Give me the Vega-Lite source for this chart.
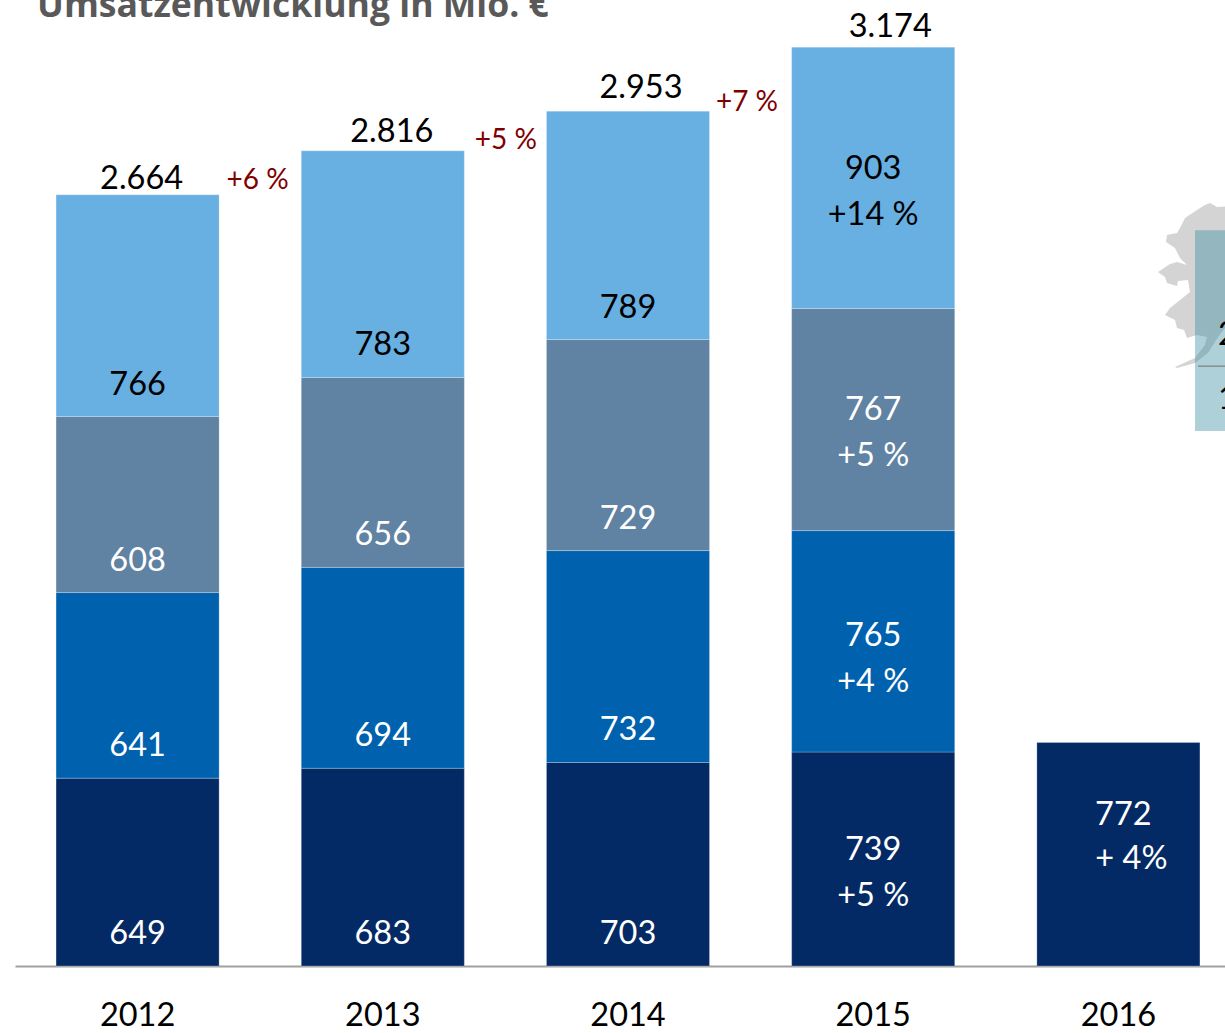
{"$schema":"https://vega.github.io/schema/vega-lite/v6.json","width":1225,"height":966,"padding":{"left":0,"right":0,"top":0,"bottom":67},"autosize":{"type":"none"},"background":"white","title":{"text":"Umsatzentwicklung in Mio. €","anchor":"start","frame":"group","font":"Open Sans","fontWeight":"bold","fontSize":35.6,"color":"#595959","dx":37,"dy":25,"offset":0},"config":{"view":{"stroke":null},"text":{"font":"Lato","fontSize":32.5,"baseline":"middle","align":"center"}},"datasets":{"segments":[{"year":"2012","segment":"Segment 1","order":1,"value":649},{"year":"2012","segment":"Segment 2","order":2,"value":641},{"year":"2012","segment":"Segment 3","order":3,"value":608},{"year":"2012","segment":"Segment 4","order":4,"value":766},{"year":"2013","segment":"Segment 1","order":1,"value":683},{"year":"2013","segment":"Segment 2","order":2,"value":694},{"year":"2013","segment":"Segment 3","order":3,"value":656},{"year":"2013","segment":"Segment 4","order":4,"value":783},{"year":"2014","segment":"Segment 1","order":1,"value":703},{"year":"2014","segment":"Segment 2","order":2,"value":732},{"year":"2014","segment":"Segment 3","order":3,"value":729},{"year":"2014","segment":"Segment 4","order":4,"value":789},{"year":"2015","segment":"Segment 1","order":1,"value":739,"change":"+5 %"},{"year":"2015","segment":"Segment 2","order":2,"value":765,"change":"+4 %"},{"year":"2015","segment":"Segment 3","order":3,"value":767,"change":"+5 %"},{"year":"2015","segment":"Segment 4","order":4,"value":903,"change":"+14 %"},{"year":"2016","segment":"Segment 1","order":1,"value":772,"change":"+ 4%"}],"totals":[{"year":"2012","total":2664,"label":"2.664","growth":"+6 %"},{"year":"2013","total":2816,"label":"2.816","growth":"+5 %"},{"year":"2014","total":2953,"label":"2.953","growth":"+7 %"},{"year":"2015","total":3174,"label":"3.174"}],"inset":[{"from":1195,"to":1230,"top":2542,"bottom":1848}],"insetLine":[{"from":1198,"to":1230,"at":2072}],"insetText":[{"at":1218,"level":2180,"text":"2"},{"at":1218,"level":1959,"text":"1"}]},"resolve":{"scale":{"x":"independent"},"axis":{"x":"independent"}},"layer":[{"data":{"values":[{"type":"Feature","properties":{"name":"Karte"},"geometry":{"type":"Polygon","coordinates":[[[1210,203],[1217,207],[1230,206],[1230,328],[1225,328],[1218,337],[1208,353],[1195,363],[1177,368],[1175,367],[1195,358],[1205,345],[1207,337],[1197,335],[1187,338],[1184,330],[1177,328],[1175,320],[1165,315],[1170,308],[1180,300],[1190,292],[1188,280],[1178,281],[1177,286],[1167,283],[1165,277],[1158,272],[1170,264],[1177,262],[1187,265],[1180,258],[1175,248],[1166,242],[1167,235],[1177,233],[1180,228],[1185,218],[1197,210],[1205,205],[1210,203]]]}}]},"projection":{"type":"identity","scale":1,"translate":[0,0]},"mark":{"type":"geoshape","fill":"#d4d4d4","stroke":null},"encoding":{}},{"layer":[{"data":{"name":"inset"},"mark":{"type":"rect","color":"#32899f","opacity":0.4},"encoding":{"x":{"field":"from","type":"quantitative","scale":{"domain":[0,1225],"range":[0,1225],"nice":false,"zero":false},"axis":null},"x2":{"field":"to"},"y":{"field":"top","type":"quantitative","scale":{"domain":[0,3337],"nice":false},"axis":null},"y2":{"field":"bottom"}}},{"data":{"name":"insetLine"},"mark":{"type":"rule","color":"#8c8c8c","strokeWidth":1.5},"encoding":{"x":{"field":"from","type":"quantitative","scale":{"domain":[0,1225],"range":[0,1225],"nice":false,"zero":false},"axis":null},"x2":{"field":"to"},"y":{"field":"at","type":"quantitative"}}},{"data":{"name":"insetText"},"mark":{"type":"text","align":"left","color":"#000000"},"encoding":{"x":{"field":"at","type":"quantitative","scale":{"domain":[0,1225],"range":[0,1225],"nice":false,"zero":false},"axis":null},"y":{"field":"level","type":"quantitative"},"text":{"field":"text"}}}]},{"data":{"name":"segments"},"transform":[{"stack":"value","groupby":["year"],"sort":[{"field":"order","order":"ascending"}],"as":["y0","y1"]}],"encoding":{"x":{"field":"year","type":"ordinal","scale":{"domain":["2012","2013","2014","2015","2016"],"range":[15,1241],"paddingInner":0.335,"paddingOuter":0.1675},"axis":{"orient":"bottom","title":null,"labelAngle":0,"ticks":false,"domainColor":"#9f9f9f","domainWidth":2,"labelFont":"Lato","labelFontSize":32.5,"labelColor":"#000000","labelBaseline":"middle","labelPadding":49,"labelOverlap":false,"labelBound":false,"labelFlush":false,"grid":false}}},"layer":[{"mark":{"type":"bar","stroke":"#ffffff","strokeWidth":0.4,"strokeOpacity":0.6},"encoding":{"y":{"field":"y1","type":"quantitative","axis":null},"y2":{"field":"y0"},"color":{"field":"segment","type":"nominal","scale":{"domain":["Segment 1","Segment 2","Segment 3","Segment 4"],"range":["#042a66","#0061ae","#6082a3","#68afe2"]},"legend":null}}},{"transform":[{"filter":"datum.year<'2015'"}],"mark":{"type":"text","dy":-32},"encoding":{"y":{"field":"y0","type":"quantitative"},"text":{"field":"value"},"color":{"condition":{"test":"datum.order==4","value":"#000000"},"value":"#ffffff"}}},{"transform":[{"filter":"datum.year=='2015' && datum.order<3"}],"mark":{"type":"text","dy":-116,"color":"#ffffff"},"encoding":{"y":{"field":"y0","type":"quantitative"},"text":{"field":"value"}}},{"transform":[{"filter":"datum.year=='2015' && datum.order<3"}],"mark":{"type":"text","dy":-70,"color":"#ffffff"},"encoding":{"y":{"field":"y0","type":"quantitative"},"text":{"field":"change"}}},{"transform":[{"filter":"datum.year=='2015' && datum.order==3"}],"mark":{"type":"text","dy":-121,"color":"#ffffff"},"encoding":{"y":{"field":"y0","type":"quantitative"},"text":{"field":"value"}}},{"transform":[{"filter":"datum.year=='2015' && datum.order==3"}],"mark":{"type":"text","dy":-75,"color":"#ffffff"},"encoding":{"y":{"field":"y0","type":"quantitative"},"text":{"field":"change"}}},{"transform":[{"filter":"datum.year=='2015' && datum.order==4"}],"mark":{"type":"text","dy":-140,"color":"#000000"},"encoding":{"y":{"field":"y0","type":"quantitative"},"text":{"field":"value"}}},{"transform":[{"filter":"datum.year=='2015' && datum.order==4"}],"mark":{"type":"text","dy":-94,"color":"#000000"},"encoding":{"y":{"field":"y0","type":"quantitative"},"text":{"field":"change"}}},{"transform":[{"filter":"datum.year=='2016'"}],"mark":{"type":"text","dy":-151,"dx":5,"color":"#ffffff"},"encoding":{"y":{"field":"y0","type":"quantitative"},"text":{"field":"value"}}},{"transform":[{"filter":"datum.year=='2016'"}],"mark":{"type":"text","dy":-107,"dx":13,"color":"#ffffff"},"encoding":{"y":{"field":"y0","type":"quantitative"},"text":{"field":"change"}}},{"data":{"name":"totals"},"transform":[{"filter":"datum.year=='2012'"}],"mark":{"type":"text","dx":4,"dy":-16,"color":"#000000"},"encoding":{"y":{"field":"total","type":"quantitative"},"text":{"field":"label"}}},{"data":{"name":"totals"},"transform":[{"filter":"datum.year=='2013'"}],"mark":{"type":"text","dx":9,"dy":-19,"color":"#000000"},"encoding":{"y":{"field":"total","type":"quantitative"},"text":{"field":"label"}}},{"data":{"name":"totals"},"transform":[{"filter":"datum.year=='2014'"}],"mark":{"type":"text","dx":13,"dy":-23,"color":"#000000"},"encoding":{"y":{"field":"total","type":"quantitative"},"text":{"field":"label"}}},{"data":{"name":"totals"},"transform":[{"filter":"datum.year=='2015'"}],"mark":{"type":"text","dx":17,"dy":-20,"color":"#000000"},"encoding":{"y":{"field":"total","type":"quantitative"},"text":{"field":"label"}}},{"data":{"name":"totals"},"transform":[{"filter":"datum.year=='2012'"}],"mark":{"type":"text","dx":120,"dy":-14,"color":"#7f0000","fontSize":28},"encoding":{"y":{"field":"total","type":"quantitative"},"text":{"field":"growth"}}},{"data":{"name":"totals"},"transform":[{"filter":"datum.year=='2013'"}],"mark":{"type":"text","dx":123,"dy":-10,"color":"#7f0000","fontSize":28},"encoding":{"y":{"field":"total","type":"quantitative"},"text":{"field":"growth"}}},{"data":{"name":"totals"},"transform":[{"filter":"datum.year=='2014'"}],"mark":{"type":"text","dx":119,"dy":-8,"color":"#7f0000","fontSize":28},"encoding":{"y":{"field":"total","type":"quantitative"},"text":{"field":"growth"}}}]}]}
